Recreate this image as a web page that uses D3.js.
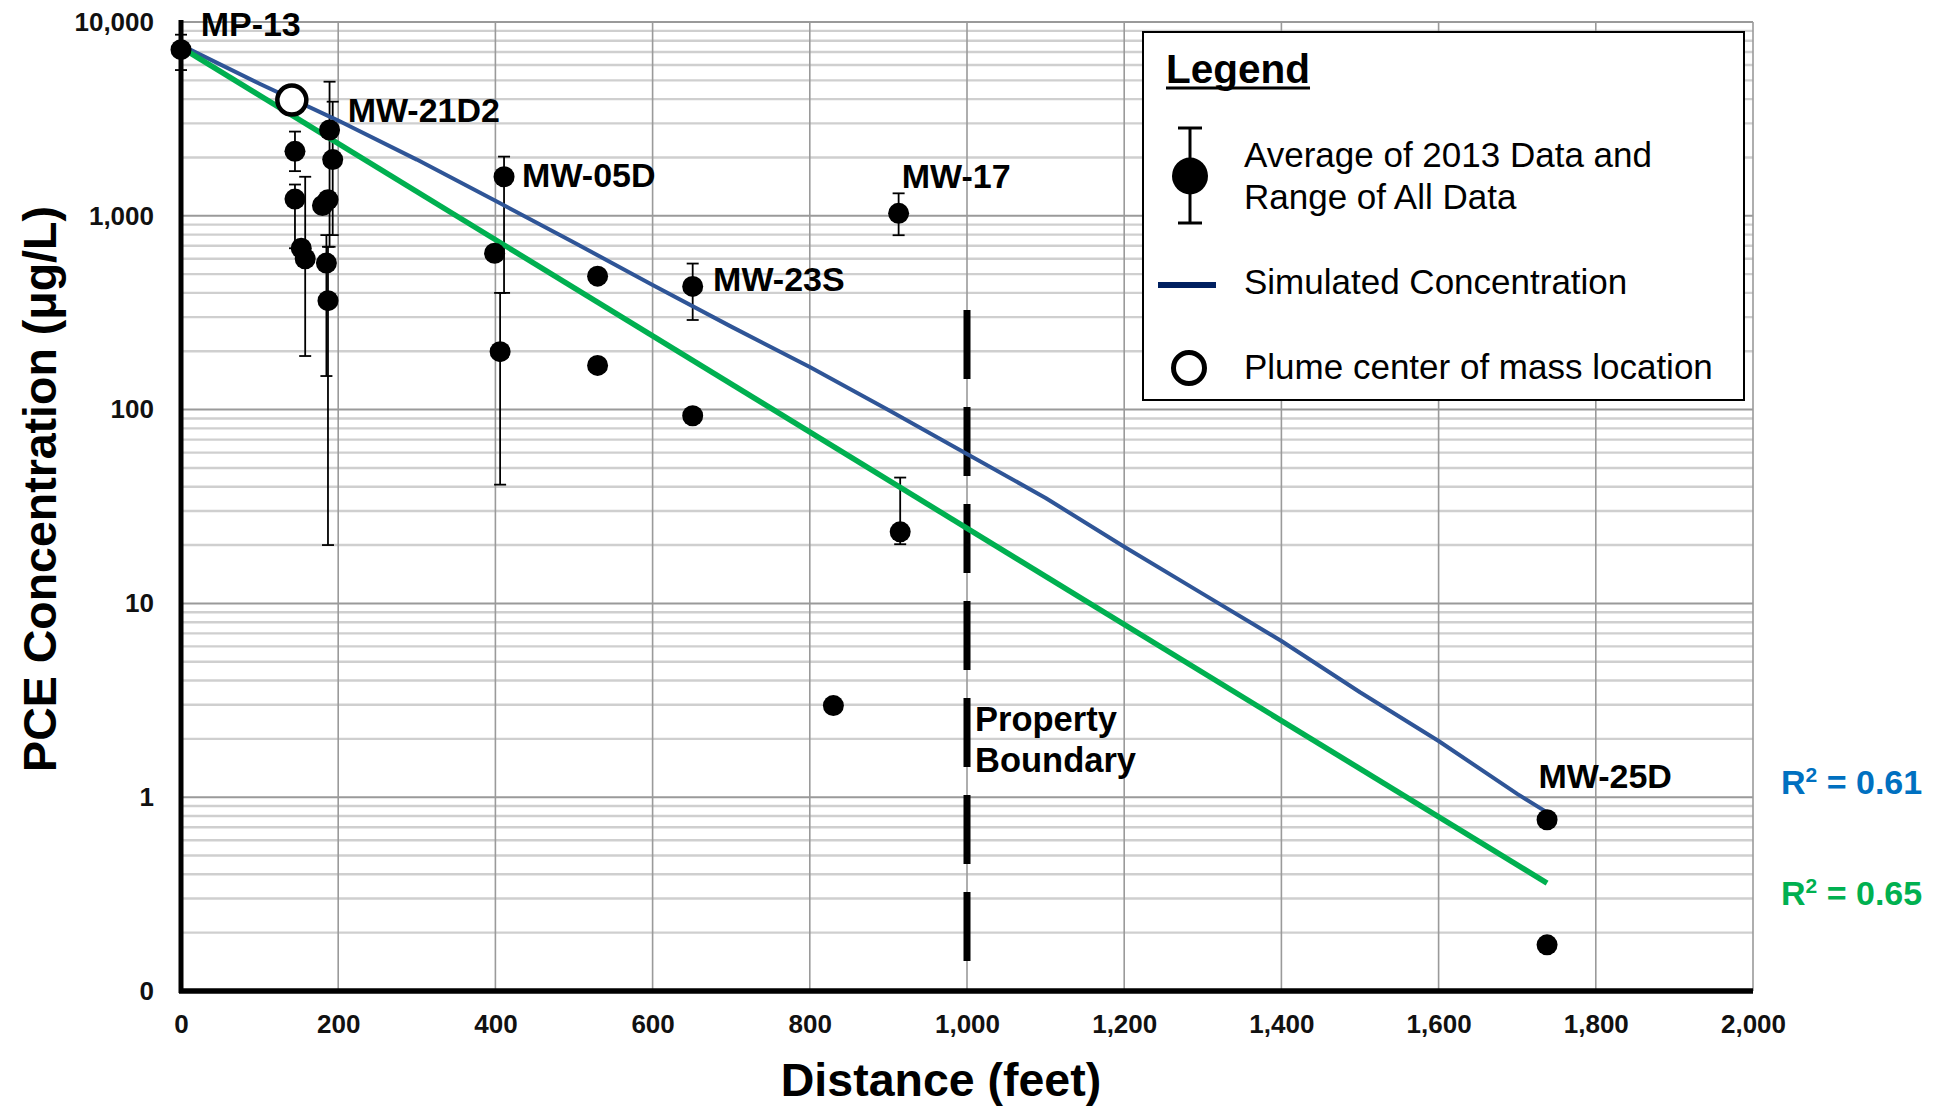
<!DOCTYPE html>
<html>
<head>
<meta charset="utf-8">
<script src="https://cdn.jsdelivr.net/npm/d3@7"></script>
<style>
  html, body { margin: 0; padding: 0; background: #fff; }
  svg { display: block; font-family: "Liberation Sans", Arial, Helvetica, sans-serif; }
</style>
</head>
<body>
<svg id="chart" width="1944" height="1110"></svg>
<script>
// ---------------- DATA ----------------
// Observed wells: distance (ft), average 2013 concentration (ug/L), range of all data
const obsDist  = [0,    145,  145,  153, 158,  189,  193,  187,  180,  185, 187, 399, 411,  406, 530, 530, 651, 651, 913,  915,  830,  1738,  1738];
const obsConc  = [7200, 2150, 1220, 680, 600,  2770, 1950, 1210, 1130, 570, 365, 641, 1590, 199, 488, 169, 432, 93,  1030, 23.4, 2.97, 0.765, 0.173];
const rangeLow = [5650, 1700, 680,  null, 189, 692,  795,  null, null, 149, 20,  null, 400, 41,  null, null, 290, null, 794, 20.2, null, null, null];
const rangeHigh= [8600, 2720, 1450, null, 1590, 4920, 3880, null, null, 795, 692, null, 2020, 400, null, null, 567, null, 1306, 44.6, null, null, null];

// Plume center of mass
const plumeDist = [141];
const plumeConc = [3955];

// Simulated concentration (blue)
const simDist = [0, 100, 200, 300, 400, 500, 600, 700, 800, 900, 1000, 1100, 1200, 1300, 1400, 1500, 1600, 1700, 1737];
const simConc = [7600, 4800, 3100, 1950, 1195, 728, 440, 268, 166, 99.5, 59, 35, 19.6, 11.2, 6.4, 3.48, 1.95, 1.04, 0.84];

// Regression line (green)
const fitDist = [0, 1738];
const fitConc = [7400, 0.36];

// Well labels
const wellLabels   = ["MP-13", "MW-21D2", "MW-05D", "MW-17", "MW-23S", "MW-25D"];
const wellLabelX   = [25, 212, 434, 917, 677, 1727];
const wellLabelY   = [8470, 3055, 1406, 1384, 410, 1.12];

// Axis ticks
const xTicks = [0, 200, 400, 600, 800, 1000, 1200, 1400, 1600, 1800, 2000];
const yTicks = [0.1, 1, 10, 100, 1000, 10000];
const yTickLabels = ["0", "1", "10", "100", "1,000", "10,000"];

const boundaryDist = 1000;
const r2Labels = ["0.61", "0.65"];

// ---------------- CHART ----------------
const svg = d3.select("#chart");
svg.append("rect").attr("width", 1944).attr("height", 1110).attr("fill", "#fff");

const x = d3.scaleLinear().domain([0, 2000]).range([181, 1753]);
const y = d3.scaleLog().domain([0.1, 10000]).range([991, 22]);

// minor horizontal gridlines
const allY = y.ticks();
const isMajor = v => Math.abs(Math.log10(v) - Math.round(Math.log10(v))) < 1e-9;
svg.append("g").selectAll("line").data(allY.filter(v => !isMajor(v))).join("line")
  .attr("x1", x(0)).attr("x2", x(2000))
  .attr("y1", d => y(d)).attr("y2", d => y(d))
  .attr("stroke", "#cfcfcf").attr("stroke-width", 2.4);

// vertical gridlines
svg.append("g").selectAll("line").data(xTicks).join("line")
  .attr("x1", d => x(d)).attr("x2", d => x(d))
  .attr("y1", y(10000)).attr("y2", y(0.1))
  .attr("stroke", "#9a9a9a").attr("stroke-width", 1.6);

// major horizontal gridlines
svg.append("g").selectAll("line").data(yTicks).join("line")
  .attr("x1", x(0)).attr("x2", x(2000))
  .attr("y1", d => y(d)).attr("y2", d => y(d))
  .attr("stroke", "#9a9a9a").attr("stroke-width", 2);

// axes
const xAxis = d3.axisBottom(x).tickValues(xTicks).tickFormat(d3.format(",")).tickSize(0).tickPadding(24);
const gx = svg.append("g").attr("transform", `translate(0,${y(0.1)})`).call(xAxis);
gx.select(".domain").remove();
gx.selectAll("text").attr("font-size", 26).attr("font-weight", "bold").attr("fill", "#111")
  .attr("font-family", "'Liberation Sans', Arial, sans-serif");

const yAxis = d3.axisLeft(y).tickValues(yTicks).tickFormat((d, i) => yTickLabels[i]).tickSize(0).tickPadding(27);
const gy = svg.append("g").attr("transform", `translate(${x(0)},0)`).call(yAxis);
gy.select(".domain").remove();
gy.selectAll("text").attr("font-size", 26).attr("font-weight", "bold").attr("fill", "#111")
  .attr("font-family", "'Liberation Sans', Arial, sans-serif");

// black axis lines
svg.append("line").attr("x1", x(0)).attr("x2", x(0)).attr("y1", y(10000) - 2).attr("y2", y(0.1) + 2)
  .attr("stroke", "#000").attr("stroke-width", 5);
svg.append("line").attr("x1", x(0) - 2).attr("x2", x(2000)).attr("y1", y(0.1)).attr("y2", y(0.1))
  .attr("stroke", "#000").attr("stroke-width", 5.5);

// property boundary
svg.append("line").attr("x1", x(boundaryDist)).attr("x2", x(boundaryDist))
  .attr("y1", 310).attr("y2", 961)
  .attr("stroke", "#000").attr("stroke-width", 7).attr("stroke-dasharray", "69 28");
const pb = svg.append("g").attr("font-size", 34.5).attr("font-weight", "bold").attr("fill", "#000");
pb.append("text").attr("x", x(boundaryDist) + 8).attr("y", 731).text("Property");
pb.append("text").attr("x", x(boundaryDist) + 8).attr("y", 772).text("Boundary");

// error bars
const eb = svg.append("g").attr("stroke", "#000").attr("stroke-width", 1.8);
obsDist.forEach((d, i) => {
  if (rangeLow[i] == null) return;
  const cx = x(d);
  eb.append("line").attr("x1", cx).attr("x2", cx).attr("y1", y(rangeLow[i])).attr("y2", y(rangeHigh[i]));
  eb.append("line").attr("x1", cx - 6).attr("x2", cx + 6).attr("y1", y(rangeLow[i])).attr("y2", y(rangeLow[i]));
  eb.append("line").attr("x1", cx - 6).attr("x2", cx + 6).attr("y1", y(rangeHigh[i])).attr("y2", y(rangeHigh[i]));
});

// simulated line
const line = d3.line().x(d => x(d[0])).y(d => y(d[1]));
svg.append("path").datum(simDist.map((d, i) => [d, simConc[i]]))
  .attr("d", line).attr("fill", "none").attr("stroke", "#2f5597").attr("stroke-width", 4)
  .attr("stroke-linejoin", "round");

// regression line
svg.append("path").datum(fitDist.map((d, i) => [d, fitConc[i]]))
  .attr("d", line).attr("fill", "none").attr("stroke", "#00b050").attr("stroke-width", 5.5);

// points
svg.append("g").selectAll("circle").data(obsDist.map((d, i) => [d, obsConc[i]])).join("circle")
  .attr("cx", d => x(d[0])).attr("cy", d => y(d[1])).attr("r", 10.5).attr("fill", "#000");

// plume center of mass
svg.append("g").selectAll("circle").data(plumeDist.map((d, i) => [d, plumeConc[i]])).join("circle")
  .attr("cx", d => x(d[0])).attr("cy", d => y(d[1])).attr("r", 14.5)
  .attr("fill", "#fff").attr("stroke", "#000").attr("stroke-width", 4.5);

// well labels
svg.append("g").selectAll("text").data(wellLabels).join("text")
  .attr("x", (d, i) => x(wellLabelX[i])).attr("y", (d, i) => y(wellLabelY[i]))
  .attr("font-size", 34).attr("font-weight", "bold").attr("fill", "#000").text(d => d);

// R² labels
const r2Colors = ["#0070c0", "#00b050"];
const r2Y = [794, 905];
r2Labels.forEach((v, i) => {
  const t = svg.append("text").attr("x", 1781).attr("y", r2Y[i])
    .attr("font-size", 34).attr("font-weight", "bold").attr("fill", r2Colors[i]);
  t.append("tspan").text("R");
  t.append("tspan").attr("font-size", 21).attr("dy", -12).text("2");
  t.append("tspan").attr("dy", 12).text(" = " + v);
});

// axis titles
svg.append("text").attr("x", 941).attr("y", 1096).attr("text-anchor", "middle")
  .attr("font-size", 46.5).attr("font-weight", "bold").attr("fill", "#000").text("Distance (feet)");
svg.append("text").attr("transform", "translate(56,489) rotate(-90)").attr("text-anchor", "middle")
  .attr("font-size", 46.5).attr("font-weight", "bold").attr("fill", "#000").text("PCE Concentration (μg/L)");

// legend
const lg = svg.append("g");
lg.append("rect").attr("x", 1143).attr("y", 32).attr("width", 601).attr("height", 368)
  .attr("fill", "#fff").attr("stroke", "#000").attr("stroke-width", 2);
const lt = lg.append("text").attr("x", 1166).attr("y", 83).attr("font-size", 40.5).attr("font-weight", "bold").text("Legend");
const lw = lt.node().getComputedTextLength();
lg.append("line").attr("x1", 1166).attr("x2", 1166 + lw).attr("y1", 88).attr("y2", 88).attr("stroke", "#000").attr("stroke-width", 3);
lg.append("line").attr("x1", 1190).attr("x2", 1190).attr("y1", 128).attr("y2", 223).attr("stroke", "#000").attr("stroke-width", 3);
lg.append("line").attr("x1", 1178).attr("x2", 1202).attr("y1", 128).attr("y2", 128).attr("stroke", "#000").attr("stroke-width", 3);
lg.append("line").attr("x1", 1178).attr("x2", 1202).attr("y1", 223).attr("y2", 223).attr("stroke", "#000").attr("stroke-width", 3);
lg.append("ellipse").attr("cx", 1190).attr("cy", 176).attr("rx", 18).attr("ry", 18.5).attr("fill", "#000");
const legFont = 35;
lg.append("text").attr("x", 1244).attr("y", 167).attr("font-size", legFont).text("Average of 2013 Data and");
lg.append("text").attr("x", 1244).attr("y", 209).attr("font-size", legFont).text("Range of All Data");
lg.append("line").attr("x1", 1158).attr("x2", 1216).attr("y1", 285).attr("y2", 285).attr("stroke", "#002060").attr("stroke-width", 6);
lg.append("text").attr("x", 1244).attr("y", 294).attr("font-size", legFont).text("Simulated Concentration");
lg.append("circle").attr("cx", 1189).attr("cy", 368).attr("r", 15.5).attr("fill", "#fff").attr("stroke", "#000").attr("stroke-width", 5);
lg.append("text").attr("x", 1244).attr("y", 379).attr("font-size", legFont).text("Plume center of mass location");
</script>
</body>
</html>
